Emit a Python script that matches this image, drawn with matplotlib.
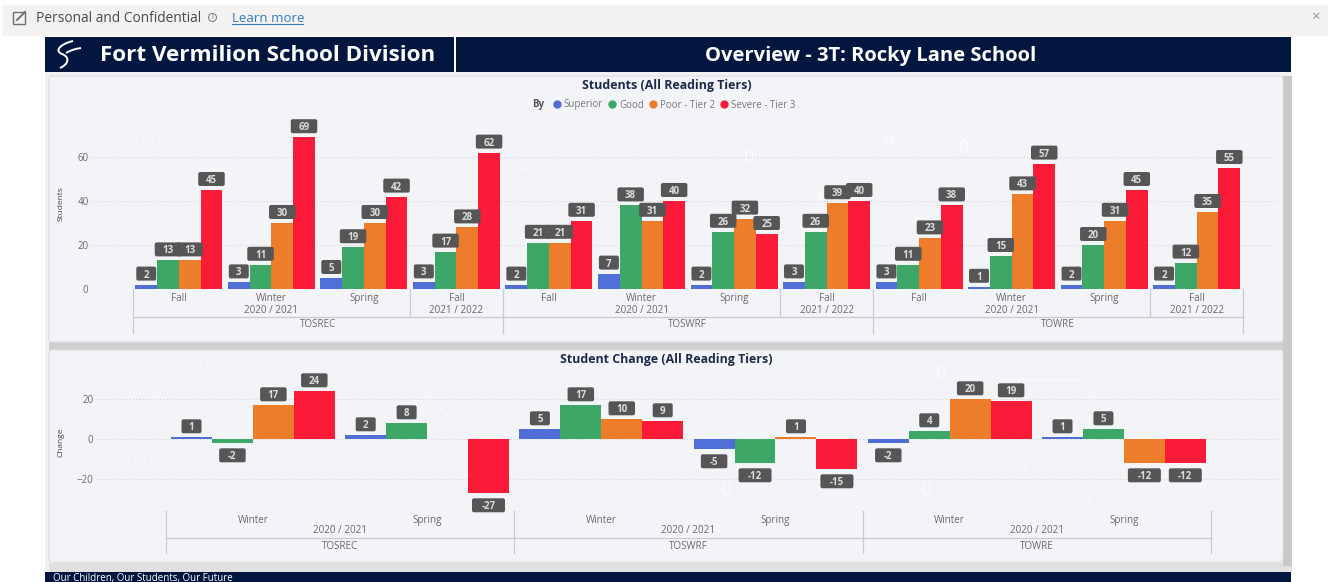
import numpy as np
import matplotlib
matplotlib.use("Agg")
import matplotlib.pyplot as plt
from matplotlib.patches import FancyBboxPatch, Rectangle, PathPatch
from matplotlib.path import Path
from matplotlib.lines import Line2D
from matplotlib.transforms import IdentityTransform

plt.rcParams['font.family'] = ['Open Sans', 'DejaVu Sans']

# ---------- data ----------
tiers = ["Superior", "Good", "Poor - Tier 2", "Severe - Tier 3"]
tier_colors = ["#4f6fd6", "#3da767", "#ee7d2b", "#fb1a37"]

seasons_top = ["Fall", "Winter", "Spring", "Fall"] * 3
students_superior = [2, 3, 5, 3, 2, 7, 2, 3, 3, 1, 2, 2]
students_good = [13, 11, 19, 17, 21, 38, 26, 26, 11, 15, 20, 12]
students_poor = [13, 30, 30, 28, 21, 31, 32, 39, 23, 43, 31, 35]
students_severe = [45, 69, 42, 62, 31, 40, 25, 40, 38, 57, 45, 55]

seasons_bottom = ["Winter", "Spring"] * 3
change_superior = [1, 2, 5, -5, -2, 1]
change_good = [-2, 8, 17, -12, 4, 5]
change_poor = [17, None, 10, 1, 20, -12]
change_severe = [24, -27, 9, -15, 19, -12]

tests = ["TOSREC", "TOSWRF", "TOWRE"]
years = ["2020 / 2021", "2021 / 2022"]

students = [students_superior, students_good, students_poor, students_severe]
changes = [change_superior, change_good, change_poor, change_severe]

W, H = 1328, 582
fig = plt.figure(figsize=(W / 100, H / 100), dpi=100, facecolor="white")

# ---------- page chrome in pixel coordinates ----------
bg = fig.add_axes([0, 0, 1, 1], zorder=0)
bg.set_xlim(0, W)
bg.set_ylim(H, 0)
bg.axis("off")

NAVY = "#03163f"
TXT = "#666a70"

bg.add_patch(Rectangle((3, 5), W - 3, 31, fc="#f3f2f1", ec="none"))
bg.add_patch(Rectangle((45, 72), 1247, 500, fc="#f1f1f2", ec="none"))
bg.add_patch(Rectangle((49, 342), 1243, 8, fc="#cfcfd0", ec="none"))
bg.add_patch(Rectangle((49, 563), 1243, 9, fc="#e0e0e1", ec="none"))
bg.add_patch(Rectangle((1283, 76), 9, 490, fc="#c9c9ca", ec="none"))
bg.add_patch(Rectangle((45, 37), 1246, 35, fc=NAVY, ec="none"))
bg.add_patch(Rectangle((45, 572), 1246, 10, fc=NAVY, ec="none"))
bg.add_patch(Rectangle((454, 37), 2, 35, fc="white", ec="none"))
for y0, y1 in [(76, 342), (350, 562)]:
    bg.add_patch(FancyBboxPatch((51, y0 + 2), 1230, y1 - y0 - 4,
                                boxstyle="round,pad=2,rounding_size=3",
                                fc="#f3f4f7", ec="#dcdee2", lw=0.8))

# faint background decoration
binary_rows = [(135, 89, "1 0 0 1 0 0 0 0 1 1 0 0 1 1"), (140, 106, "0 1 1 0 0 1 1 0 1 1 0 0 0 1"),
               (140, 122, "1 0 1 0 0 1 0 1 1 1 0 0 1"), (132, 139, "0 1 1 0 0 0 0 1 1 0 0 0"),
               (135, 363, "1 1 0 1 0 0 1 0 1 0 1 1 0"), (130, 393, "0 0 1 0 1"),
               (115, 460, "1 0 1 1 0"), (150, 500, "0 1 1 0 0 1 0 1 1")]
for x, y, s in binary_rows:
    bg.text(x, y, s, color="white", fontsize=7.5, alpha=0.6, va="center")
glyphs = [(888, 140, "0"), (963, 148, "0"), (748, 158, "0"), (820, 200, "1"), (1000, 282, "0"),
          (1090, 505, "1"), (925, 490, "0"), (1025, 470, "1"), (725, 490, "0"), (940, 373, "0")]
for x, y, s in glyphs:
    bg.text(x, y, s, color="white", fontsize=13, alpha=0.7, ha="center", va="center")
for xs, ys in [([880, 960, 985], [138, 138, 150]), ([420, 470, 520, 600], [120, 120, 170, 170]),
               ([1000, 1080, 1130], [380, 380, 430]), ([360, 410, 450], [370, 370, 420])]:
    bg.plot(xs, ys, color="white", lw=1, alpha=0.5)

# logo swirl
logo_main = Path([(73, 41), (60, 44), (54, 51), (62, 54), (70, 57), (69, 64), (60, 68)],
                 [Path.MOVETO, Path.CURVE4, Path.CURVE4, Path.CURVE4, Path.CURVE4, Path.CURVE4, Path.CURVE4])
logo_branch = Path([(66, 53), (71, 50), (75, 49), (81, 48)],
                   [Path.MOVETO, Path.CURVE4, Path.CURVE4, Path.CURVE4])
for p in (logo_main, logo_branch):
    bg.add_patch(PathPatch(p, fc="none", ec="white", lw=1.4))

# top strip
bg.add_patch(Rectangle((13, 12), 12, 11.5, fc="none", ec="#707070", lw=1))
bg.plot([17, 25], [20, 12], color="#707070", lw=1.4)
bg.text(36, 18, "Personal and Confidential", fontsize=9.9, color="#4a4a4a", va="center")
bg.add_patch(plt.Circle((212.5, 17.5), 4, fc="none", ec="#777777", lw=0.7))
bg.text(212.5, 17.5, "i", fontsize=5, color="#666666", ha="center", va="center")
bg.text(232, 18, "Learn more", fontsize=9.5, color="#2f7ebd", va="center")
bg.plot([232, 303], [24, 24], color="#2f7ebd", lw=0.8)
bg.text(1315, 17, "×", fontsize=11, color="#999999", ha="center", va="center")

# header and footer
bg.text(100, 55.5, "Fort Vermilion School Division", fontsize=16.1, weight="bold", color="white", va="center")
bg.text(871, 55.5, "Overview - 3T: Rocky Lane School", fontsize=14.5, weight="bold", color="white", ha="center", va="center")
bg.text(53, 578, "Our Children, Our Students, Our Future", fontsize=7, color="white", va="center", clip_on=True)

# titles
bg.text(667, 85, "Students (All Reading Tiers)", fontsize=8.9, weight="bold", color="#1c2b4a", ha="center", va="center")
bg.text(666, 359, "Student Change (All Reading Tiers)", fontsize=8.9, weight="bold", color="#1c2b4a", ha="center", va="center")
bg.text(532, 105, "By", fontsize=7, weight="bold", color="#555555", va="center")
bg.text(61, 204, "Students", fontsize=6, color="#444444", rotation=90, ha="center", va="center")
bg.text(61, 442, "Change", fontsize=6, color="#444444", rotation=90, ha="center", va="center")


def make_axes(px_left, px_right, px_top, px_bottom, px_zero, px_per_unit, groups_left, pitch, n):
    ax = fig.add_axes([px_left / W, 1 - px_bottom / H, (px_right - px_left) / W, (px_bottom - px_top) / H], zorder=2)
    ax.patch.set_alpha(0)
    ax.set_xlim((px_left - groups_left) / pitch - 0.5, (px_right - groups_left) / pitch - 0.5)
    ax.set_ylim((px_zero - px_bottom) / px_per_unit, (px_zero - px_top) / px_per_unit)
    for s in ax.spines.values():
        s.set_visible(False)
    return ax


def value_labels(ax, x, y, width_1=20, width_step=6.5, pad=11):
    sx, sy = ax.transData.transform((x, y))
    text = str(y)
    w = width_1 + width_step * (len(text) - 1)
    cy = sy + pad if y >= 0 else sy - pad - 1
    h = 14
    ax.add_patch(FancyBboxPatch((sx - w / 2 + 2, cy - h / 2 + 2), w - 4, h - 4,
                                boxstyle="round,pad=2,rounding_size=2", fc="#565656", ec="none",
                                transform=IdentityTransform(), zorder=5, clip_on=False))
    ax.annotate(text, (sx, cy), xycoords="figure pixels", color="#dcdcdc", fontsize=7,
                weight="bold", ha="center", va="center_baseline", zorder=6, annotation_clip=False)


def draw_bars(ax, series, n):
    width = 0.235
    xs = np.arange(n)
    for k, (vals, col, name) in enumerate(zip(series, tier_colors, tiers)):
        arr = np.array([np.nan if v is None else v for v in vals], dtype=float)
        ax.bar(xs + (k - 1.5) * width, arr, width=width, color=col, label=name, zorder=3)
    for k, vals in enumerate(series):
        for i, v in enumerate(vals):
            if v is not None:
                value_labels(ax, i + (k - 1.5) * width, v)


def style_y(ax, ticks, pad):
    ax.set_yticks(ticks)
    ax.tick_params(axis="y", length=0, pad=pad, labelsize=7, labelcolor=TXT)
    ax.grid(axis="y", ls=(0, (1, 2)), color="#d4d6da", lw=0.8, zorder=0)
    ax.set_axisbelow(True)


# ---------- top chart ----------
L1, P1, Z1 = 132.6, 92.53, 289
ax1 = make_axes(90, 1276, 120, Z1, Z1, 2.2, L1, P1, 12)
draw_bars(ax1, students, 12)
style_y(ax1, [0, 20, 40, 60], 1)
ax1.set_xticks(np.arange(12), seasons_top)
ax1.tick_params(axis="x", length=0, pad=3.2, labelsize=7.1, labelcolor=TXT)

LINE = "#c9cbcf"
px = lambda left, pitch, i: left + pitch * i
for i in [0, 4, 8, 12]:
    x = px(L1, P1, i)
    bg.plot([x, x], [Z1, 333], color=LINE, lw=0.9)
for i in [3, 7, 11]:
    x = px(L1, P1, i)
    bg.plot([x, x], [Z1, 317], color=LINE, lw=0.9)
bg.plot([L1, px(L1, P1, 12)], [317, 317], color=LINE, lw=0.9)
for t, test in enumerate(tests):
    base = t * 4
    bg.text(px(L1, P1, base + 1.5), 310.5, years[0], fontsize=7.1, color=TXT, ha="center", va="center")
    bg.text(px(L1, P1, base + 3.5), 310.5, years[1], fontsize=7.1, color=TXT, ha="center", va="center")
    bg.text(px(L1, P1, base + 2), 324.5, test, fontsize=7.1, color=TXT, ha="center", va="center")

handles = [Line2D([], [], ls="none", marker="o", ms=6, mfc=c, mec="none") for c in tier_colors]
ax1.legend(handles, tiers, ncol=4, frameon=False, fontsize=7, labelcolor="#7a7a7a",
           loc="center left", bbox_to_anchor=(552 / W, 1 - 105 / H), bbox_transform=fig.transFigure,
           borderpad=0, borderaxespad=0, handletextpad=0.2, columnspacing=0.45, handlelength=1)

# ---------- bottom chart ----------
L2, P2, Z2 = 165.8, 174.2, 439.3
ax2 = make_axes(96, 1278, 375, 511, Z2, 2.0, L2, P2, 6)
draw_bars(ax2, changes, 6)
style_y(ax2, [-20, 0, 20], 2)
ax2.set_xticks(np.arange(6), seasons_bottom)
ax2.tick_params(axis="x", length=0, pad=2.8, labelsize=7.1, labelcolor=TXT)
for i in [0, 2, 4, 6]:
    x = px(L2, P2, i)
    bg.plot([x, x], [511, 553], color=LINE, lw=0.9)
bg.plot([L2, px(L2, P2, 6)], [537.7, 537.7], color=LINE, lw=0.9)
for t, test in enumerate(tests):
    bg.text(px(L2, P2, t * 2 + 1), 530.5, years[0], fontsize=7.1, color=TXT, ha="center", va="center")
    bg.text(px(L2, P2, t * 2 + 1), 546.5, test, fontsize=7.1, color=TXT, ha="center", va="center")

fig.savefig("out.png", dpi=100, facecolor="white")
